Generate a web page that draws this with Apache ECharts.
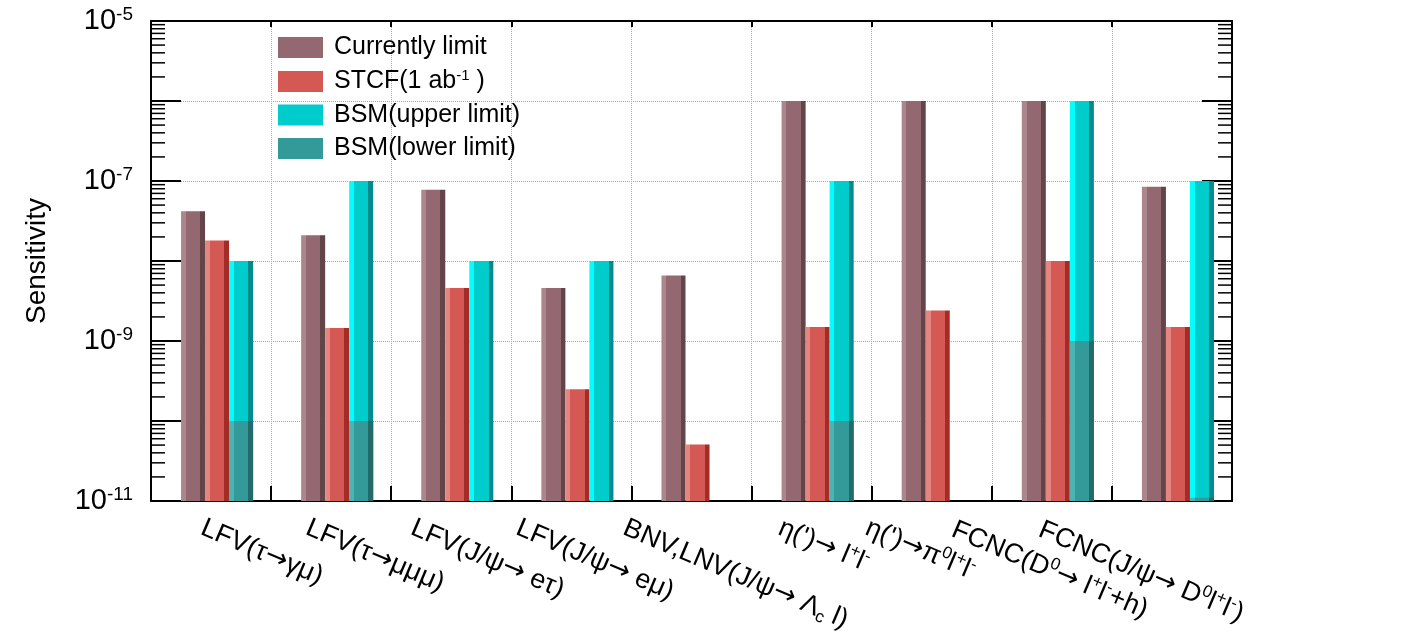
<!DOCTYPE html>
<html><head><meta charset="utf-8">
<script src="https://cdn.jsdelivr.net/npm/echarts@6/dist/echarts.min.js"></script>
<style>html,body{margin:0;padding:0;background:#fff}#c{width:1426px;height:637px}</style>
</head><body><div id="c"></div>
<script>
// ---------------- data ----------------
const categories = [
  'LFV(τ{ar|→}γμ)',
  'LFV(τ{ar|→}μμμ)',
  'LFV(J/ψ{ar|→} eτ)',
  'LFV(J/ψ{ar|→} eμ)',
  'BNV,LNV(J/ψ{ar|→} Λ{sb|c} l)',
  "η(')" + '{ar|→} l{sp|+}l{sp|-}',
  "η(')" + '{ar|→}π{sp|0}l{sp|+}l{sp|-}',
  'FCNC(D{sp|0}{ar|→} l{sp|+}l{sp|-}+h)',
  'FCNC(J/ψ{ar|→} D{sp|0}l{sp|+}l{sp|-})'
];
const currentLimit = [4.2e-8, 2.1e-8, 7.8e-8, 4.6e-9, 6.6e-9, 1e-6, 1e-6, 1e-6, 8.5e-8];
const stcf         = [1.8e-8, 1.45e-9, 4.6e-9, 2.5e-10, 5.1e-11, 1.5e-9, 2.4e-9, 1e-8, 1.5e-9];
const bsmUpper     = [1e-8, 1e-7, 1e-8, 1e-8, 1e-11, 1e-7, 1e-11, 1e-6, 1e-7];
const bsmLower     = [1e-10, 1e-10, null, null, null, 1e-10, null, 1e-9, 1.1e-11];
const yLabelExponents = [-11, -9, -7, -5];
const minorMultipliers = [2, 3, 4, 5, 6, 7, 8, 9];

// ---------------- style / layout ----------------
const FONT = 'Liberation Sans, Arial, Helvetica, sans-serif';
const G = { left: 151, right: 194, top: 21, bottom: 136 };
const ROT = 23;
const labelDx = [-9, -24, -39, -54, -67, -32, -65, -99, -132];
const labelDy = [14, 14, 14, 14, 14, 14, 14, 16, 16];

function grad(l, m, d) {
  return new echarts.graphic.LinearGradient(0, 0, 1, 0, [
    { offset: 0, color: l }, { offset: 0.2, color: l },
    { offset: 0.2, color: m }, { offset: 0.8, color: m },
    { offset: 0.8, color: d }, { offset: 1, color: d }
  ]);
}
const C_CUR = '#936870', C_STCF = '#d45955', C_UP = '#00cccc', C_LOW = '#339999';

const cs = Math.cos(ROT * Math.PI / 180), sn = Math.sin(ROT * Math.PI / 180);
const xData = categories.map((c, i) => {
  const pl = labelDx[i] * cs + labelDy[i] * sn;
  const b = -labelDx[i] * sn + labelDy[i] * cs;
  return { value: c, textStyle: { padding: [b, 0, -b, pl] } };
});
const toData = arr => arr.map(v => (v == null ? '-' : v));
const empty = categories.map(() => '-');

const chart = echarts.init(document.getElementById('c'), null, { renderer: 'canvas' });
const gridLine = { show: true, lineStyle: { color: '#a8a8a8', type: 'dotted', width: 1 } };
const option = {
  animation: false,
  textStyle: { fontFamily: FONT },
  grid: Object.assign({ containLabel: false, outerBoundsMode: 'none' }, G),
  legend: {
    orient: 'vertical', left: 278, top: 35, padding: 0, itemGap: 8.5,
    itemWidth: 45, itemHeight: 21, icon: 'rect', selectedMode: false,
    data: [
      { name: 'Currently limit', itemStyle: { color: C_CUR } },
      { name: 'STCF', itemStyle: { color: C_STCF } },
      { name: 'BSM(upper limit)', itemStyle: { color: C_UP } },
      { name: 'BSM(lower limit)', itemStyle: { color: C_LOW } }
    ],
    formatter: n => n === 'STCF' ? '{n|STCF(1 ab}{s|-1}{n| )}' : '{n|' + n + '}',
    textStyle: {
      color: '#000', fontFamily: FONT, fontSize: 25, padding: [0, 0, 0, 6],
      rich: {
        n: { fontSize: 25, fontFamily: FONT, color: '#000', lineHeight: 26 },
        s: { fontSize: 15, fontFamily: FONT, color: '#000', verticalAlign: 'top', lineHeight: 12 }
      }
    }
  },
  xAxis: [
    {
      type: 'category', position: 'bottom', data: xData,
      axisLine: { show: true, lineStyle: { color: '#000', width: 2 } },
      axisTick: { show: true, inside: true, length: 15, interval: 0, lineStyle: { color: '#000', width: 2 } },
      splitLine: Object.assign({ interval: 0 }, gridLine),
      axisLabel: {
        interval: 0, rotate: -ROT, margin: 12, color: '#000', fontSize: 27, fontFamily: FONT, lineHeight: 31,
        rich: {
          sp: { fontSize: 17, fontFamily: FONT, color: '#000', verticalAlign: 'top', lineHeight: 14 },
          sb: { fontSize: 17, fontFamily: FONT, color: '#000', verticalAlign: 'bottom', lineHeight: 12 },
          ar: { fontSize: 27, fontFamily: 'DejaVu Sans', color: '#000' }
        }
      }
    },
    {
      type: 'category', position: 'top', data: categories,
      axisLine: { show: true, lineStyle: { color: '#000', width: 2 } },
      axisTick: { show: true, inside: true, length: 6, interval: 0, lineStyle: { color: '#000', width: 2 } },
      axisLabel: { show: false }, splitLine: { show: false }
    }
  ],
  yAxis: [
    {
      type: 'log', logBase: 10, min: 1e-11, max: 1e-5, startValue: 1e-11, position: 'left',
      axisLine: { show: true, lineStyle: { color: '#000', width: 2 } },
      axisTick: { show: true, inside: true, length: 30, lineStyle: { color: '#000', width: 2 } },
      splitLine: gridLine,
      axisLabel: {
        margin: 18, color: '#000',
        formatter: v => {
          const e = Math.round(Math.log10(v));
          return yLabelExponents.indexOf(e) >= 0 ? '{b|10}{s|' + e + '}' : '';
        },
        rich: {
          b: { fontSize: 29, fontFamily: FONT, color: '#000', lineHeight: 32 },
          s: { fontSize: 19, fontFamily: FONT, color: '#000', verticalAlign: 'top', lineHeight: 14 }
        }
      },
      name: 'Sensitivity', nameLocation: 'middle', nameRotate: 90, nameGap: 100,
      nameTextStyle: { fontSize: 28, fontFamily: FONT, color: '#000' }
    },
    {
      type: 'log', logBase: 10, min: 1e-11, max: 1e-5, startValue: 1e-11, position: 'right',
      axisLine: { show: true, lineStyle: { color: '#000', width: 2 } },
      axisTick: { show: true, inside: true, length: 30, lineStyle: { color: '#000', width: 2 } },
      axisLabel: { show: false }, splitLine: { show: false }
    }
  ],
  series: [
    { name: '_pad1', type: 'bar', xAxisIndex: 0, yAxisIndex: 0, data: empty, barWidth: '10%', barGap: 0, silent: true },
    { name: 'Currently limit', type: 'bar', xAxisIndex: 0, yAxisIndex: 0, data: toData(currentLimit), barWidth: '20%', barGap: 0,
      itemStyle: { color: grad('#ab878d', C_CUR, '#624449') } },
    { name: 'STCF', type: 'bar', xAxisIndex: 0, yAxisIndex: 0, data: toData(stcf), barWidth: '20%', barGap: 0,
      itemStyle: { color: grad('#e5857f', C_STCF, '#a52b27') } },
    { name: 'BSM(upper limit)', type: 'bar', xAxisIndex: 0, yAxisIndex: 0, data: toData(bsmUpper), barWidth: '20%', barGap: 0,
      itemStyle: { color: grad('#00ffff', C_UP, '#008c8c') } },
    { name: '_pad2', type: 'bar', xAxisIndex: 1, yAxisIndex: 0, data: empty, barWidth: '50%', barGap: 0, silent: true },
    { name: 'BSM(lower limit)', type: 'bar', xAxisIndex: 1, yAxisIndex: 0, data: toData(bsmLower), barWidth: '20%', barGap: 0, z: 3,
      itemStyle: { color: grad('#4cb3b3', C_LOW, '#236a6a') } }
  ]
};
chart.setOption(option);

// minor log ticks (inside, both sides), positioned via the axis scale
const W = 1426;
const xl = G.left, xr = W - G.right;
const els = [];
for (let e = -11; e < -5; e++) {
  minorMultipliers.forEach(m => {
    const y = chart.convertToPixel({ yAxisIndex: 0 }, m * Math.pow(10, e));
    els.push({ type: 'line', silent: true, z: 10, shape: { x1: xl, y1: y, x2: xl + 14, y2: y }, style: { stroke: '#000', lineWidth: 1.5 } });
    els.push({ type: 'line', silent: true, z: 10, shape: { x1: xr - 14, y1: y, x2: xr, y2: y }, style: { stroke: '#000', lineWidth: 1.5 } });
  });
}
chart.setOption({ graphic: { elements: els } });
</script>
</body></html>
